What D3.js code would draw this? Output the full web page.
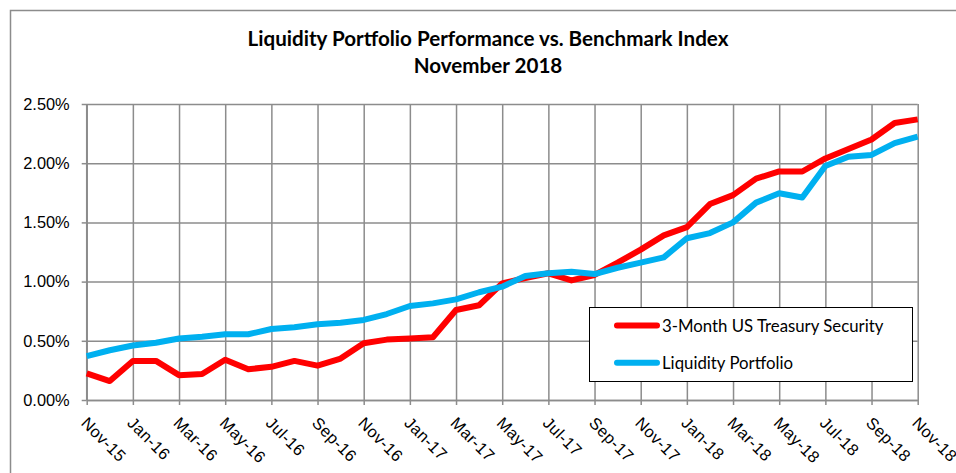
<!DOCTYPE html>
<html>
<head>
<meta charset="utf-8">
<script src="https://cdn.jsdelivr.net/npm/d3@7"></script>
<style>
body { margin: 0; background: #fff; }
svg { display: block; font-family: Lato, 'Open Sans', sans-serif; }
.grid line { stroke: #8c8c8c; stroke-width: 1.5; }
.grid path { display: none; }
.axis path, .axis line { stroke: #8c8c8c; stroke-width: 1.5; }
.axis text { fill: #000; font-size: 16.4px; }
.title { font-size: 20.6px; font-weight: bold; }
.legend text { font-size: 16.8px; }
</style>
</head>
<body>
<svg id="chart" width="956" height="473"></svg>
<script>
const months = [
  'Nov-15', 'Dec-15', 'Jan-16', 'Feb-16', 'Mar-16', 'Apr-16', 'May-16', 'Jun-16', 'Jul-16', 'Aug-16',
  'Sep-16', 'Oct-16', 'Nov-16', 'Dec-16', 'Jan-17', 'Feb-17', 'Mar-17', 'Apr-17', 'May-17', 'Jun-17',
  'Jul-17', 'Aug-17', 'Sep-17', 'Oct-17', 'Nov-17', 'Dec-17', 'Jan-18', 'Feb-18', 'Mar-18', 'Apr-18',
  'May-18', 'Jun-18', 'Jul-18', 'Aug-18', 'Sep-18', 'Oct-18', 'Nov-18'
];

// percent
const treasury = [
  0.225, 0.16, 0.33, 0.33, 0.21, 0.22, 0.34, 0.26, 0.28, 0.33,
  0.29, 0.35, 0.48, 0.51, 0.52, 0.53, 0.76, 0.80, 0.985, 1.03,
  1.07, 1.01, 1.056, 1.16, 1.27, 1.39, 1.46, 1.655, 1.73, 1.87,
  1.93, 1.93, 2.04, 2.12, 2.20, 2.34, 2.37
];

const portfolio = [
  0.37, 0.42, 0.46, 0.484, 0.52, 0.535, 0.555, 0.555, 0.60, 0.615,
  0.64, 0.653, 0.676, 0.726, 0.794, 0.816, 0.85, 0.91, 0.957, 1.047,
  1.07, 1.084, 1.064, 1.117, 1.16, 1.205, 1.366, 1.41, 1.50, 1.667,
  1.746, 1.71, 1.976, 2.055, 2.07, 2.17, 2.225
];

const yTicks = [0, 0.5, 1.0, 1.5, 2.0, 2.5];
const xTicks = months.filter((m, i) => i % 2 === 0);

const seriesNames = ['3-Month US Treasury Security', 'Liquidity Portfolio'];
const seriesColors = ['#ff0000', '#00b0f0'];

const svg = d3.select('#chart');

// outer chart border (runs off the right/bottom edge)
svg.append('rect')
  .attr('x', 10.5)
  .attr('y', 10.5)
  .attr('width', 1000)
  .attr('height', 1000)
  .attr('fill', 'none')
  .attr('stroke', '#8c8c8c')
  .attr('stroke-width', 1.5);

const plotLeft = 86.7, plotRight = 917.7, plotTop = 104, plotBottom = 400;

const xScale = d3.scalePoint()
  .domain(months)
  .range([plotLeft, plotRight]);

const yScale = d3.scaleLinear()
  .domain([0, 2.5])
  .range([plotBottom, plotTop]);

// horizontal grid
svg.append('g')
  .attr('class', 'grid')
  .attr('transform', `translate(${plotLeft}, 0)`)
  .call(d3.axisLeft(yScale)
    .tickValues(yTicks)
    .tickSize(-(plotRight - plotLeft))
    .tickFormat(''));

// vertical grid
svg.append('g')
  .attr('class', 'grid')
  .attr('transform', `translate(0, ${plotTop})`)
  .call(d3.axisBottom(xScale)
    .tickValues(xTicks)
    .tickSize(plotBottom - plotTop)
    .tickFormat(''));

// y axis
const yAxis = svg.append('g')
  .attr('class', 'axis')
  .attr('transform', `translate(${plotLeft}, 0)`)
  .call(d3.axisLeft(yScale)
    .tickValues(yTicks)
    .tickSize(5)
    .tickPadding(12)
    .tickFormat((d) => d3.format('.2f')(d) + '%'));
yAxis.select('.domain').attr('d', `M0,${plotTop}V${plotBottom}`);

// x axis
const xAxis = svg.append('g')
  .attr('class', 'axis')
  .attr('transform', `translate(0, ${plotBottom})`)
  .call(d3.axisBottom(xScale)
    .tickValues(xTicks)
    .tickSize(5)
    .tickSizeOuter(0));
xAxis.selectAll('text')
  .attr('text-anchor', 'start')
  .attr('y', 0)
  .attr('dy', 0)
  .attr('letter-spacing', 0.4)
  .attr('transform', 'translate(-7, 24) rotate(45)');

const line = d3.line()
  .x((d, i) => xScale(months[i]))
  .y((d) => yScale(d));

[treasury, portfolio].forEach((values, k) => {
  svg.append('path')
    .datum(values)
    .attr('fill', 'none')
    .attr('stroke', seriesColors[k])
    .attr('stroke-width', 6)
    .attr('stroke-linejoin', 'round')
    .attr('d', line);
});

// title
const title = svg.append('text')
  .attr('class', 'title')
  .attr('text-anchor', 'middle');
title.append('tspan').attr('x', 488).attr('y', 46).text('Liquidity Portfolio Performance vs. Benchmark Index');
title.append('tspan').attr('x', 488).attr('y', 73).text('November 2018');

// legend
const legend = svg.append('g').attr('class', 'legend');
legend.append('rect')
  .attr('x', 589.5)
  .attr('y', 307.5)
  .attr('width', 323)
  .attr('height', 74)
  .attr('fill', '#fff')
  .attr('stroke', '#000')
  .attr('stroke-width', 1);

seriesNames.forEach((name, k) => {
  const ly = 325.5 + k * 37.3;
  legend.append('line')
    .attr('x1', 617)
    .attr('x2', 657)
    .attr('y1', ly)
    .attr('y2', ly)
    .attr('stroke', seriesColors[k])
    .attr('stroke-width', 6)
    .attr('stroke-linecap', 'round');
  legend.append('text')
    .attr('x', 662)
    .attr('y', ly + 6)
    .text(name);
});
</script>
</body>
</html>
